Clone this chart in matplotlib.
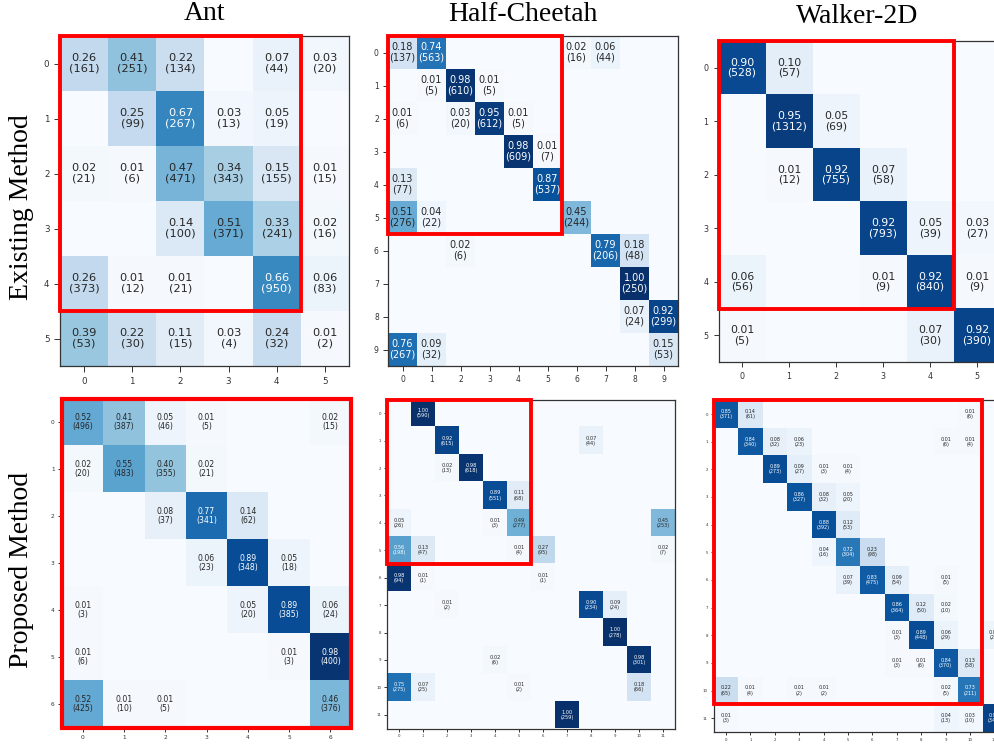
import matplotlib
matplotlib.use("Agg")
import matplotlib.pyplot as plt
import numpy as np
from matplotlib.patches import Rectangle

# ---------------------------------------------------------------------------
# Confusion-matrix entries: (true row, predicted column, row fraction, count)
# Cells not listed are zero.
# ---------------------------------------------------------------------------
ant_existing_n = 6
ant_existing = [
    (0, 0, 0.26, 161), (0, 1, 0.41, 251), (0, 2, 0.22, 134), (0, 4, 0.07, 44), (0, 5, 0.03, 20),
    (1, 1, 0.25, 99), (1, 2, 0.67, 267), (1, 3, 0.03, 13), (1, 4, 0.05, 19),
    (2, 0, 0.02, 21), (2, 1, 0.01, 6), (2, 2, 0.47, 471), (2, 3, 0.34, 343), (2, 4, 0.15, 155), (2, 5, 0.01, 15),
    (3, 2, 0.14, 100), (3, 3, 0.51, 371), (3, 4, 0.33, 241), (3, 5, 0.02, 16),
    (4, 0, 0.26, 373), (4, 1, 0.01, 12), (4, 2, 0.01, 21), (4, 4, 0.66, 950), (4, 5, 0.06, 83),
    (5, 0, 0.39, 53), (5, 1, 0.22, 30), (5, 2, 0.11, 15), (5, 3, 0.03, 4), (5, 4, 0.24, 32), (5, 5, 0.01, 2),
]

cheetah_existing_n = 10
cheetah_existing = [
    (0, 0, 0.18, 137), (0, 1, 0.74, 563), (0, 6, 0.02, 16), (0, 7, 0.06, 44),
    (1, 1, 0.01, 5), (1, 2, 0.98, 610), (1, 3, 0.01, 5),
    (2, 0, 0.01, 6), (2, 2, 0.03, 20), (2, 3, 0.95, 612), (2, 4, 0.01, 5),
    (3, 4, 0.98, 609), (3, 5, 0.01, 7),
    (4, 0, 0.13, 77), (4, 5, 0.87, 537),
    (5, 0, 0.51, 276), (5, 1, 0.04, 22), (5, 6, 0.45, 244),
    (6, 2, 0.02, 6), (6, 7, 0.79, 206), (6, 8, 0.18, 48),
    (7, 8, 1.00, 250),
    (8, 8, 0.07, 24), (8, 9, 0.92, 299),
    (9, 0, 0.76, 267), (9, 1, 0.09, 32), (9, 9, 0.15, 53),
]

walker_existing_n = 6
walker_existing = [
    (0, 0, 0.90, 528), (0, 1, 0.10, 57),
    (1, 1, 0.95, 1312), (1, 2, 0.05, 69),
    (2, 1, 0.01, 12), (2, 2, 0.92, 755), (2, 3, 0.07, 58),
    (3, 3, 0.92, 793), (3, 4, 0.05, 39), (3, 5, 0.03, 27),
    (4, 0, 0.06, 56), (4, 3, 0.01, 9), (4, 4, 0.92, 840), (4, 5, 0.01, 9),
    (5, 0, 0.01, 5), (5, 4, 0.07, 30), (5, 5, 0.92, 390),
]

ant_proposed_n = 7
ant_proposed = [
    (0, 0, 0.52, 496), (0, 1, 0.41, 387), (0, 2, 0.05, 46), (0, 3, 0.01, 5), (0, 6, 0.02, 15),
    (1, 0, 0.02, 20), (1, 1, 0.55, 483), (1, 2, 0.40, 355), (1, 3, 0.02, 21),
    (2, 2, 0.08, 37), (2, 3, 0.77, 341), (2, 4, 0.14, 62),
    (3, 3, 0.06, 23), (3, 4, 0.89, 348), (3, 5, 0.05, 18),
    (4, 0, 0.01, 3), (4, 4, 0.05, 20), (4, 5, 0.89, 385), (4, 6, 0.06, 24),
    (5, 0, 0.01, 6), (5, 5, 0.01, 3), (5, 6, 0.98, 400),
    (6, 0, 0.52, 425), (6, 1, 0.01, 10), (6, 2, 0.01, 5), (6, 6, 0.46, 376),
]

cheetah_proposed_n = 12
cheetah_proposed = [
    (0, 1, 1.00, 590),
    (1, 2, 0.92, 615), (1, 8, 0.07, 44),
    (2, 2, 0.02, 13), (2, 3, 0.98, 618),
    (3, 4, 0.89, 551), (3, 5, 0.11, 68),
    (4, 0, 0.05, 26), (4, 4, 0.01, 3), (4, 5, 0.49, 277), (4, 11, 0.45, 253),
    (5, 0, 0.56, 198), (5, 1, 0.13, 47), (5, 5, 0.01, 4), (5, 6, 0.27, 95), (5, 11, 0.02, 7),
    (6, 0, 0.98, 94), (6, 1, 0.01, 1), (6, 6, 0.01, 1),
    (7, 2, 0.01, 2), (7, 8, 0.90, 234), (7, 9, 0.09, 24),
    (8, 9, 1.00, 278),
    (9, 4, 0.02, 6), (9, 10, 0.98, 301),
    (10, 0, 0.75, 275), (10, 1, 0.07, 25), (10, 5, 0.01, 2), (10, 10, 0.18, 66),
    (11, 7, 1.00, 259),
]

walker_proposed_n = 12
walker_proposed = [
    (0, 0, 0.85, 371), (0, 1, 0.14, 61), (0, 10, 0.01, 6),
    (1, 1, 0.84, 340), (1, 2, 0.08, 32), (1, 3, 0.06, 23), (1, 9, 0.01, 6), (1, 10, 0.01, 4),
    (2, 2, 0.89, 273), (2, 3, 0.09, 27), (2, 4, 0.01, 3), (2, 5, 0.01, 4),
    (3, 3, 0.86, 327), (3, 4, 0.08, 32), (3, 5, 0.05, 20),
    (4, 4, 0.88, 392), (4, 5, 0.12, 53),
    (5, 4, 0.04, 16), (5, 5, 0.72, 304), (5, 6, 0.23, 98),
    (6, 5, 0.07, 39), (6, 6, 0.83, 475), (6, 7, 0.09, 54), (6, 9, 0.01, 5),
    (7, 7, 0.86, 364), (7, 8, 0.12, 50), (7, 9, 0.02, 10),
    (8, 7, 0.01, 3), (8, 8, 0.89, 448), (8, 9, 0.06, 29), (8, 11, 0.05, 24),
    (9, 7, 0.01, 3), (9, 8, 0.01, 6), (9, 9, 0.84, 370), (9, 10, 0.13, 58),
    (10, 0, 0.22, 65), (10, 1, 0.01, 4), (10, 3, 0.01, 2), (10, 4, 0.01, 2), (10, 9, 0.02, 5), (10, 10, 0.73, 211),
    (11, 0, 0.01, 3), (11, 9, 0.04, 13), (11, 10, 0.03, 10), (11, 11, 0.93, 344),
]

column_titles = ["Ant", "Half-Cheetah", "Walker-2D"]
row_titles = ["Existing Method", "Proposed Method"]

# highlighted block size (top-left k x k classes) per panel
highlight = {"ant_e": 5, "hc_e": 6, "wk_e": 5, "ant_p": 7, "hc_p": 6, "wk_p": 11}

# ---------------------------------------------------------------------------
W, H = 994, 744
fig = plt.figure(figsize=(W / 100, H / 100), dpi=100)
fig.patch.set_facecolor("white")

SERIF = ["Liberation Serif", "DejaVu Serif"]
DARK_TXT = "#262626"


def add_axes_px(left, top, right, bottom):
    return fig.add_axes([left / W, 1 - bottom / H, (right - left) / W, (bottom - top) / H])


def draw_matrix(ax, n, cells, k, annot_size, tick_size, tick_len, red_lw):
    mat = np.zeros((n, n))
    for r, c, f, cnt in cells:
        mat[r, c] = f
    ax.imshow(mat, cmap="Blues", vmin=0, vmax=1, aspect="auto",
              interpolation="nearest")
    for r, c, f, cnt in cells:
        color = "white" if f > 0.555 else DARK_TXT
        ax.text(c, r, f"{f:.2f}\n({cnt})", ha="center", va="center",
                fontsize=annot_size, color=color, linespacing=1.05)
    ax.set_xticks(range(n))
    ax.set_yticks(range(n))
    ax.set_xticklabels([str(i) for i in range(n)])
    ax.set_yticklabels([str(i) for i in range(n)])
    ax.tick_params(labelsize=tick_size, length=tick_len, width=0.7,
                   color="#333333", labelcolor="#333333", pad=tick_len * 0.9)
    for sp in ax.spines.values():
        sp.set_color("#333333")
        sp.set_linewidth(0.9)
    ax.add_patch(Rectangle((-0.5, -0.5), k, k, fill=False, edgecolor="#ff0000",
                           linewidth=red_lw, clip_on=False, zorder=10))


# top row: existing method
ax = add_axes_px(60, 36, 349, 366)
draw_matrix(ax, ant_existing_n, ant_existing, highlight["ant_e"], 8.2, 6.3, 4.0, 2.8)

ax = add_axes_px(388, 36, 678, 366)
draw_matrix(ax, cheetah_existing_n, cheetah_existing, highlight["hc_e"], 7.0, 5.5, 3.5, 2.8)

ax = add_axes_px(718.5, 41, 1000.5, 362)
draw_matrix(ax, walker_existing_n, walker_existing, highlight["wk_e"], 7.8, 5.8, 3.8, 2.8)

# bottom row: proposed method
ax = add_axes_px(62, 398.5, 351, 727.5)
draw_matrix(ax, ant_proposed_n, ant_proposed, highlight["ant_p"], 5.6, 4.2, 2.8, 3.0)

ax = add_axes_px(387, 399.5, 675, 728.5)
draw_matrix(ax, cheetah_proposed_n, cheetah_proposed, highlight["hc_p"], 3.6, 2.8, 2.2, 2.8)

ax = add_axes_px(713.8, 400.2, 1006.6, 732)
draw_matrix(ax, walker_proposed_n, walker_proposed, highlight["wk_p"], 3.5, 2.8, 2.2, 2.8)

# column and row headings
for title, x, base in zip(column_titles, [204, 523, 857], [20, 21, 23]):
    fig.text(x / W, 1 - base / H, title, ha="center", va="baseline",
             fontsize=20, family=SERIF, color="black")

for label, y in zip(row_titles, [207, 570]):
    fig.text(22 / W, 1 - y / H, label, rotation=90, ha="center", va="center",
             fontsize=20, family=SERIF, color="black")

fig.savefig("out.png", dpi=100, facecolor="white")
